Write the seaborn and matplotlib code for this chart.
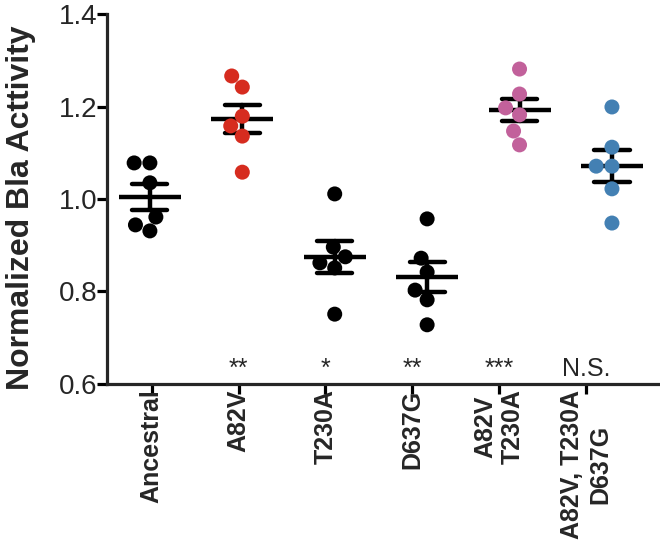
import numpy as np
import pandas as pd
import seaborn as sns
import matplotlib.pyplot as plt

# Datos (actividad Bla normalizada, 6 réplicas por grupo)
grupos = ["Ancestral", "A82V", "T230A", "D637G", "A82V\nT230A", "A82V, T230A\nD637G"]
ancestral = [1.078, 1.078, 1.035, 0.961, 0.931, 0.944]
a82v = [1.242, 1.266, 1.179, 1.158, 1.136, 1.058]
t230a = [1.011, 0.896, 0.875, 0.862, 0.851, 0.751]
d637g = [0.957, 0.872, 0.842, 0.803, 0.782, 0.728]
a82v_t230a = [1.281, 1.227, 1.197, 1.182, 1.147, 1.117]
a82v_t230a_d637g = [1.199, 1.112, 1.071, 1.071, 1.022, 0.948]
significancia = ["", "**", "*", "**", "***", "N.S."]
colores = ["black", "#d62c1f", "black", "black", "#c2619b", "#4380b3"]


def crear_dataframe():
    # Pasamos las listas a formato largo para seaborn
    series = [ancestral, a82v, t230a, d637g, a82v_t230a, a82v_t230a_d637g]
    filas = []
    for grupo, valores in zip(grupos, series):
        for v in valores:
            filas.append({"grupo": grupo, "valor": v})
    return pd.DataFrame(filas)


def grafico(df):
    sns.set_style("ticks")
    plt.rcParams["font.family"] = ["Liberation Sans", "DejaVu Sans"]

    fig = plt.figure(figsize=(6.6, 5.47), dpi=100)
    ax = fig.add_axes([0.162, 0.298, 0.838, 0.6764])

    # Puntos individuales
    sns.swarmplot(
        data=df, x="grupo", y="valor", hue="grupo", order=grupos, hue_order=grupos,
        palette=colores, size=10.8, legend=False, ax=ax,
    )
    # Media +/- error estándar
    sns.pointplot(
        data=df, x="grupo", y="valor", order=grupos, errorbar="se", capsize=0.38,
        color="black", marker="_", markersize=45, markeredgewidth=3.2,
        linestyle="none", err_kws={"linewidth": 3.2}, ax=ax,
    )

    # Los ticks del eje x están algo desplazados respecto a los grupos, como en el original
    pos_ticks = np.arange(len(grupos)) * 0.94 + 0.02
    ax.set_xticks(pos_ticks)
    ax.set_xticklabels(grupos, rotation=90, fontweight="bold", fontsize=18,
                       ha="center", va="top", multialignment="center")
    ax.set_xlim(-0.465, 5.52)
    ax.set_ylim(0.6, 1.4)
    ax.set_yticks([0.6, 0.8, 1.0, 1.2, 1.4])
    ax.set_yticklabels([f"{t:.1f}" for t in [0.6, 0.8, 1.0, 1.2, 1.4]], fontsize=20)
    ax.set_xlabel("")
    ax.set_ylabel("Normalized Bla Acttivity", fontsize=23, fontweight="bold")
    ax.yaxis.set_label_coords(-0.128, 0.476)

    sns.despine(ax=ax)
    for lado in ["left", "bottom"]:
        ax.spines[lado].set_linewidth(2.3)
    ax.tick_params(axis="both", width=2.3, length=7, color="black")
    ax.tick_params(axis="x", pad=-3)
    ax.tick_params(axis="y", pad=0)

    # Asteriscos de significancia
    for x, s in zip(pos_ticks, significancia):
        ax.text(x, 0.617, s, ha="center", va="baseline", fontsize=18)

    fig.savefig("out.png", dpi=100)
    plt.close(fig)


def main():
    df = crear_dataframe()
    grafico(df)


if __name__ == "__main__":
    main()
